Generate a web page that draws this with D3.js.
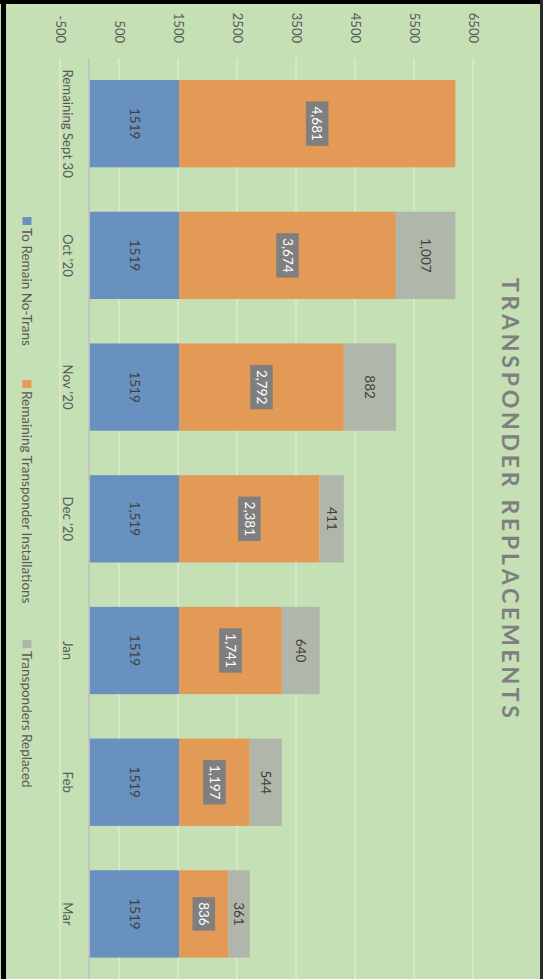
<!DOCTYPE html>
<html>
<head>
<meta charset="utf-8">
<script src="https://cdn.jsdelivr.net/npm/d3@7"></script>
<style>
  body { margin: 0; background: #fff; }
  svg { display: block; font-family: Lato, "Open Sans", sans-serif; }
</style>
</head>
<body>
<div id="chart"></div>
<script>
const categories = ["Remaining Sept 30", "Oct '20", "Nov '20", "Dec '20", "Jan", "Feb", "Mar"];
const seriesNames = ["To Remain No-Trans", "Remaining Transponder Installations", "Transponders Replaced"];
const noTrans = [1519, 1519, 1519, 1519, 1519, 1519, 1519];
const remaining = [4681, 3674, 2792, 2381, 1741, 1197, 836];
const replaced = [0, 1007, 882, 411, 640, 544, 361];
const noTransLabels = ["1519", "1519", "1519", "1,519", "1519", "1519", "1519"];
const tickValues = [-500, 500, 1500, 2500, 3500, 4500, 5500, 6500];
const colors = ["#6991c0", "#e39a56", "#b1b6aa"];

const W = 543, H = 979;

const svg = d3.select("#chart")
  .append("svg")
  .attr("width", W)
  .attr("height", H);

svg.append("rect").attr("width", W).attr("height", H).attr("fill", "#c5e0b4");

// chart is turned a quarter clockwise: values run left->right, categories top->bottom
const x = d3.scaleLinear().domain([-500, 6500]).range([60, 473]);
const y = d3.scaleBand().domain(categories).range([57.8, 979.8])
  .paddingInner(0.337).paddingOuter(0.1685);

const rows = categories.map((c, i) => ({
  cat: c, a: noTrans[i], b: remaining[i], c2: replaced[i], lab: noTransLabels[i]
}));
const stack = d3.stack().keys(["a", "b", "c2"]);
const series = stack(rows);

// gridlines
svg.append("g")
  .selectAll("line")
  .data(tickValues)
  .join("line")
  .attr("x1", d => x(d)).attr("x2", d => x(d))
  .attr("y1", 58).attr("y2", H)
  .attr("stroke", "#e3ecdc")
  .attr("stroke-width", 1.2);

// value axis labels
const xAxis = svg.append("g")
  .attr("transform", "translate(0,43)")
  .call(d3.axisTop(x).tickValues(tickValues).tickSize(0).tickFormat(d => String(d)));
xAxis.select(".domain").remove();
xAxis.selectAll("text")
  .attr("x", 0).attr("y", 0).attr("dy", "0.35em")
  .attr("text-anchor", "end")
  .attr("transform", "rotate(90)")
  .attr("fill", "#595959")
  .style("font-family", "Lato, sans-serif")
  .style("font-size", "13px");

// bars
svg.append("g")
  .selectAll("g")
  .data(series)
  .join("g")
  .attr("fill", (d, i) => colors[i])
  .selectAll("rect")
  .data(d => d)
  .join("rect")
  .attr("x", d => x(d[0]))
  .attr("width", d => x(d[1]) - x(d[0]))
  .attr("y", d => y(d.data.cat))
  .attr("height", y.bandwidth());

// category axis (zero line)
const yAxis = svg.append("g")
  .attr("transform", `translate(${x(0)},0)`)
  .call(d3.axisLeft(y).tickSize(0));
yAxis.select(".domain").remove();
svg.append("line")
  .attr("x1", x(0) - 0.5).attr("x2", x(0) - 0.5)
  .attr("y1", 58).attr("y2", H)
  .attr("stroke", "#bfbfbf").attr("stroke-width", 1.5);
yAxis.selectAll("text")
  .attr("x", 0).attr("y", 0).attr("dy", "0.35em")
  .attr("text-anchor", "middle")
  .attr("transform", "translate(-22,0) rotate(90)")
  .attr("fill", "#595959")
  .style("font-family", "Lato, sans-serif")
  .style("font-size", "13.2px");

// data labels
const labels = svg.append("g");
series.forEach((s, si) => {
  s.forEach((d, i) => {
    const v = d[1] - d[0];
    if (!v) return;
    const cx = (x(d[0]) + x(d[1])) / 2;
    const cy = y(d.data.cat) + y.bandwidth() / 2;
    const txt = si === 0 ? d.data.lab : d3.format(",")(v);
    const g = labels.append("g").attr("transform", `translate(${cx},${cy}) rotate(90)`);
    const t = g.append("text")
      .attr("text-anchor", "middle")
      .attr("dy", "0.35em")
      .style("font-size", "13.5px")
      .attr("fill", si === 1 ? "#ffffff" : "#404040")
      .text(txt);
    if (si === 1) {
      const len = t.node().getComputedTextLength();
      g.insert("rect", "text")
        .attr("x", -len / 2 - 5).attr("width", len + 10)
        .attr("y", -11.3).attr("height", 22.6)
        .attr("fill", "#7f7f7f");
    }
  });
});

// title
svg.append("text")
  .attr("transform", "translate(510,498) rotate(90)")
  .attr("text-anchor", "middle")
  .attr("dy", "0.35em")
  .attr("fill", "#7f7f7f")
  .attr("textLength", 440)
  .attr("lengthAdjust", "spacing")
  .style("font-size", "23px")
  .style("font-weight", "bold")
  .text("TRANSPONDER REPLACEMENTS");

// legend
const legendY = [217, 380, 640];
const legend = svg.append("g")
  .selectAll("g")
  .data(seriesNames)
  .join("g")
  .attr("transform", (d, i) => `translate(27,${legendY[i]})`);
legend.append("rect")
  .attr("x", -4.5).attr("y", 0).attr("width", 9).attr("height", 8)
  .attr("fill", (d, i) => colors[i]);
legend.append("text")
  .attr("transform", "translate(0,11) rotate(90)")
  .attr("dy", "0.35em")
  .attr("fill", "#595959")
  .style("font-size", "13.5px")
  .text(d => d);

// frame
svg.append("rect").attr("x", 0).attr("y", 0).attr("width", W).attr("height", 4).attr("fill", "#000");
svg.append("rect").attr("x", 1).attr("y", 0).attr("width", 5).attr("height", H).attr("fill", "#000");
svg.append("rect").attr("x", 540).attr("y", 0).attr("width", 3).attr("height", H).attr("fill", "#2a2a2a");
</script>
</body>
</html>
